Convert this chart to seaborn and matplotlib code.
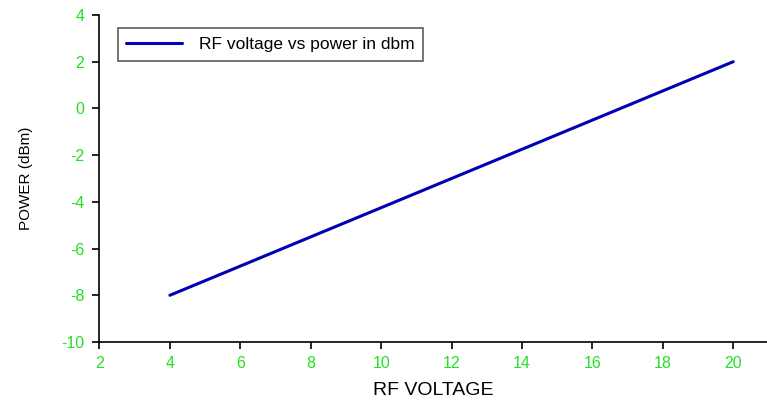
import pandas as pd
import matplotlib
matplotlib.use("Agg")
import matplotlib.pyplot as plt
import seaborn as sns

# data
rf_voltage = [4, 20]
power_dbm = [-8, 2]
x_ticks = [2, 4, 6, 8, 10, 12, 14, 16, 18, 20]
y_ticks = [-10, -8, -6, -4, -2, 0, 2, 4]

df = pd.DataFrame({"RF VOLTAGE": rf_voltage, "POWER (dBm)": power_dbm})

sns.set_style("white")
plt.rcParams["font.family"] = ["Liberation Sans", "DejaVu Sans"]
plt.rcParams["axes.unicode_minus"] = False
plt.rcParams["text.color"] = "black"
plt.rcParams["axes.labelcolor"] = "black"

fig = plt.figure(figsize=(7.67, 4.0), dpi=100)
ax = fig.add_axes([0.1297, 0.145, 0.8703, 0.8175])

sns.lineplot(data=df, x="RF VOLTAGE", y="POWER (dBm)", ax=ax,
             color="#0000b4", linewidth=2.2, label="RF voltage vs power in dbm")

ax.set_xlim(2, 20.96)
ax.set_ylim(-10, 4)
ax.set_xticks(x_ticks)
ax.set_yticks(y_ticks)
ax.tick_params(axis="both", direction="out", length=5, width=1.2, colors="black",
               labelcolor="#22e022", labelsize=11.5, bottom=True, left=True)
ax.tick_params(axis="x", pad=5)
ax.tick_params(axis="y", pad=6)
for s in ["top", "right"]:
    ax.spines[s].set_visible(False)
for s in ["left", "bottom"]:
    ax.spines[s].set_color("black")
    ax.spines[s].set_linewidth(1.2)

ax.set_xlabel("RF VOLTAGE", fontsize=14, labelpad=8)
ax.set_ylabel("POWER (dBm)", fontsize=11, labelpad=20)

leg = ax.legend(loc="upper left", bbox_to_anchor=(0.027, 0.96), fontsize=12.5,
                frameon=True, fancybox=False, handlelength=3.2,
                borderpad=0.5, borderaxespad=0, handletextpad=1.0)
leg.get_frame().set_edgecolor("#333333")
leg.get_frame().set_linewidth(1.2)

fig.savefig("out.png", dpi=100)
